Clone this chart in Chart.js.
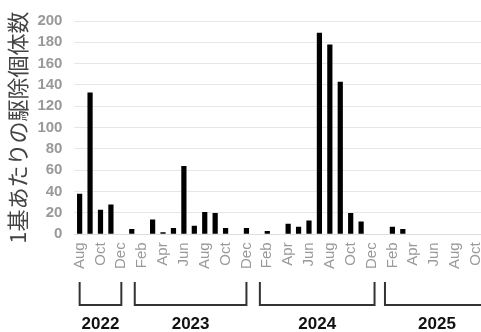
<!DOCTYPE html>
<html>
<head>
<meta charset="utf-8">
<script src="https://cdn.jsdelivr.net/npm/chart.js@4"></script>
<style>
  html, body { margin: 0; padding: 0; background: #fff; }
  #wrap { width: 481px; height: 332px; position: relative; }
</style>
</head>
<body>
<div id="wrap"><canvas id="chart"></canvas></div>
<script>
// months Aug 2022 .. Oct 2025
const months = [
  'Aug','Sep','Oct','Nov','Dec',
  'Jan','Feb','Mar','Apr','May','Jun','Jul','Aug','Sep','Oct','Nov','Dec',
  'Jan','Feb','Mar','Apr','May','Jun','Jul','Aug','Sep','Oct','Nov','Dec',
  'Jan','Feb','Mar','Apr','May','Jun','Jul','Aug','Sep','Oct'
];
const counts = [
  38, 133, 23, 28, 0,
  5, 0.5, 14, 2, 6, 64, 8, 21, 20, 6, 0.5, 6,
  0.5, 3, 0, 10, 7, 13, 189, 178, 143, 20, 12, 0.5,
  0.5, 7, 5, 0, 0, 0, 0, 0, 0, 0
];
// year groups: label, first month index, last month index
const years = ['2022', '2023', '2024', '2025'];
const yearStart = [0, 5, 17, 29];
const yearEnd = [4, 16, 28, 40];
const yTicks = [0, 20, 40, 60, 80, 100, 120, 140, 160, 180, 200];

// brackets + year labels under the axis
const yearBrackets = {
  id: 'yearBrackets',
  afterDraw(chart) {
    const ctx = chart.ctx;
    const x = chart.scales.x;
    const top = 282, bottom = 305;
    ctx.save();
    ctx.strokeStyle = '#333';
    ctx.lineWidth = 2;
    ctx.fillStyle = '#111';
    ctx.font = 'bold 17px "Liberation Sans", Arial, sans-serif';
    ctx.textAlign = 'center';
    ctx.textBaseline = 'middle';
    years.forEach((yr, i) => {
      const x0 = x.getPixelForValue(yearStart[i]) + (i === 0 ? 0 : 3);
      const x1 = x.getPixelForValue(yearEnd[i]) + (i === 2 ? 3 : 0);
      ctx.beginPath();
      ctx.moveTo(x0, top);
      ctx.lineTo(x0, bottom);
      ctx.lineTo(x1, bottom);
      ctx.lineTo(x1, top);
      ctx.stroke();
      const xe = i === 3 ? x0 + 104 : x1;
      ctx.fillText(yr, (x0 + xe) / 2, 324);
    });
    ctx.restore();
  }
};

new Chart(document.getElementById('chart'), {
  type: 'bar',
  data: {
    labels: months,
    datasets: [{
      data: counts,
      backgroundColor: '#000',
      barPercentage: 0.5,
      categoryPercentage: 1.0
    }]
  },
  options: {
    responsive: true,
    maintainAspectRatio: false,
    animation: false,
    layout: { padding: { top: 6, right: 0, bottom: 55, left: 4 } },
    plugins: { legend: { display: false }, tooltip: { enabled: false } },
    scales: {
      x: {
        grid: { display: false, drawTicks: false },
        border: { color: '#ddd' },
        afterFit: scale => { scale.paddingLeft = 0; scale.paddingRight = 0; },
        ticks: {
          autoSkip: false,
          minRotation: 90,
          maxRotation: 90,
          padding: 8,
          color: '#999',
          font: { family: '"Liberation Sans", Arial, sans-serif', size: 15 },
          callback: (v, i) => (i % 2 === 0 ? months[i] : '')
        }
      },
      y: {
        min: 0,
        max: 200,
        afterBuildTicks: axis => { axis.ticks = yTicks.map(v => ({ value: v })); },
        grid: { color: '#e6e6e6', drawTicks: false },
        border: { display: false },
        ticks: {
          autoSkip: false,
          padding: 12,
          color: '#999',
          font: { family: '"Liberation Sans", Arial, sans-serif', size: 15, weight: 'bold' }
        },
        title: {
          display: true,
          text: '1基あたりの駆除個体数',
          color: '#444',
          padding: { top: 0, bottom: -5 },
          font: { family: '"Noto Sans CJK JP", sans-serif', size: 22 }
        }
      }
    }
  },
  plugins: [yearBrackets]
});
</script>
</body>
</html>
